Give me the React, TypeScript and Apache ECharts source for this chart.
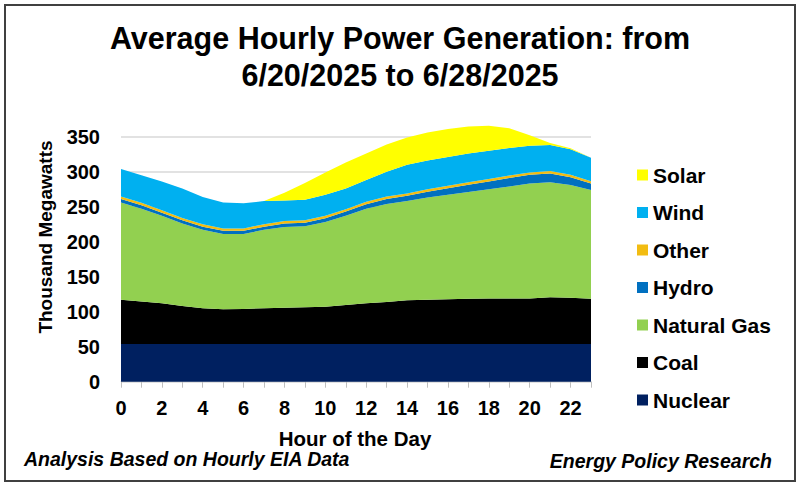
import React, { useEffect, useRef } from "react";
import * as echarts from "echarts";

const hours = ["0","1","2","3","4","5","6","7","8","9","10","11","12","13","14","15","16","17","18","19","20","21","22","23"];
const nuclear = [54,54,54,54,54,54,54,54,54,54,54,54,54,54,54,54,54,54,54,54,54,54,54,54];
const coal = [63,60.5,58,54,51,49.5,50,51,51.7,52.5,53,55.5,58,60,62.5,63,63.7,64.5,65,65,65,66.5,66,64.6];
const gas = [139,132.5,125,118,112,107.5,107,112,115.3,115.5,121,127.5,135,140,141.5,146,149.3,152.5,156,160,164,164.5,161,155.4];
const hydro = [5,5,4.5,4.5,4.5,4.5,4.5,4.5,5,5,5.5,6,6.5,7,7.5,8.5,9.5,10.5,11,12,12.5,12.5,11,9];
const other = [3.5,3.5,3.5,3.5,3.5,3.5,3.5,3.5,3.5,3.5,3.5,3.5,3.5,3.5,3.5,3.5,3.5,3.5,3.5,3.5,3.5,3.5,3.5,3.5];
const wind = [39.5,39.5,41,42,39,37,36,33,29.5,29.5,30,29.5,31,35.5,41,41,41,41,40.5,39.5,38,37,36.5,33.5];
const solar = [0,0,0,0,0,0,0,0,11,24,32,37,38,39,39,40,40,38.5,35.5,28,15,3,1.5,0];
const yTicks = [0, 50, 100, 150, 200, 250, 300, 350];

const seriesDefs = [
  { name: "Nuclear", data: nuclear, color: "#002060" },
  { name: "Coal", data: coal, color: "#000000" },
  { name: "Natural Gas", data: gas, color: "#92D050" },
  { name: "Hydro", data: hydro, color: "#0070C0" },
  { name: "Other", data: other, color: "#F2BC12" },
  { name: "Wind", data: wind, color: "#00B0F0" },
  { name: "Solar", data: solar, color: "#FFFF00" },
];
const legendOrder = ["Solar", "Wind", "Other", "Hydro", "Natural Gas", "Coal", "Nuclear"];

const FONT = 'Arial, "Liberation Sans", sans-serif';

export default function App() {
  const ref = useRef<HTMLDivElement>(null);
  useEffect(() => {
    if (!ref.current) return;
    const chart = echarts.init(ref.current, undefined, { renderer: "svg" });
    chart.setOption({
      animation: false,
      backgroundColor: "#ffffff",
      textStyle: { fontFamily: FONT },
      grid: { left: 121, right: 209, top: 136.7, bottom: 109.3, containLabel: false },
      xAxis: {
        type: "category",
        data: hours,
        boundaryGap: false,
        axisLine: { show: true, lineStyle: { color: "#d9d9d9", width: 1 } },
        axisTick: { show: true, interval: 0, length: 6, lineStyle: { color: "#bfbfbf", width: 1 } },
        axisLabel: { interval: 1, margin: 16, fontSize: 20, fontWeight: "bold", color: "#000", fontFamily: FONT },
        splitLine: { show: false },
      },
      yAxis: {
        type: "value",
        min: yTicks[0],
        max: yTicks[yTicks.length - 1],
        interval: 50,
        axisLine: { show: false },
        axisTick: { show: false },
        axisLabel: { margin: 21, fontSize: 20, fontWeight: "bold", color: "#000", fontFamily: FONT },
        splitLine: { show: true, lineStyle: { color: "#d9d9d9", width: 1.5 } },
      },
      legend: {
        orient: "vertical",
        left: 632,
        top: 159,
        data: legendOrder,
        icon: "rect",
        itemWidth: 11,
        itemHeight: 11,
        itemGap: 15.5,
        selectedMode: false,
        textStyle: { fontSize: 21, fontWeight: "bold", color: "#000", lineHeight: 22, fontFamily: FONT },
      },
      series: seriesDefs.map((s) => ({
        name: s.name,
        type: "line",
        stack: "total",
        data: s.data,
        color: s.color,
        showSymbol: false,
        symbol: "none",
        clip: false,
        lineStyle: { width: 0, color: s.color },
        itemStyle: { color: s.color },
        areaStyle: { color: s.color, opacity: 1 },
        emphasis: { disabled: true },
      })),
      graphic: [
        {
          type: "rect",
          shape: { x: 5, y: 5, width: 790, height: 476 },
          style: { fill: "none", stroke: "#404040", lineWidth: 2 },
          z: 100,
        },
        {
          type: "text",
          x: 400,
          y: 38,
          style: { text: "Average Hourly Power Generation: from", fontSize: 30.5, fontWeight: "bold", fontFamily: FONT, fill: "#000", align: "center", verticalAlign: "middle" },
        },
        {
          type: "text",
          x: 400,
          y: 75,
          style: { text: "6/20/2025 to 6/28/2025", fontSize: 30.5, fontWeight: "bold", fontFamily: FONT, fill: "#000", align: "center", verticalAlign: "middle" },
        },
        {
          type: "text",
          x: 45,
          y: 237,
          rotation: Math.PI / 2,
          style: { text: "Thousand Megawatts", fontSize: 19, fontWeight: "bold", fontFamily: FONT, fill: "#000", align: "center", verticalAlign: "middle" },
        },
        {
          type: "text",
          x: 355,
          y: 438,
          style: { text: "Hour of the Day", fontSize: 20.5, fontWeight: "bold", fontFamily: FONT, fill: "#000", align: "center", verticalAlign: "middle" },
        },
        {
          type: "text",
          x: 24,
          y: 459,
          style: { text: "Analysis Based on Hourly EIA Data", fontSize: 19.5, fontWeight: "bold", fontStyle: "italic", fontFamily: FONT, fill: "#000", align: "left", verticalAlign: "middle" },
        },
        {
          type: "text",
          x: 772,
          y: 461,
          style: { text: "Energy Policy Research", fontSize: 19.5, fontWeight: "bold", fontStyle: "italic", fontFamily: FONT, fill: "#000", align: "right", verticalAlign: "middle" },
        },
      ],
    });
    return () => chart.dispose();
  }, []);
  return <div ref={ref} style={{ position: "fixed", left: 0, top: 0, width: 800, height: 491 }} />;
}
